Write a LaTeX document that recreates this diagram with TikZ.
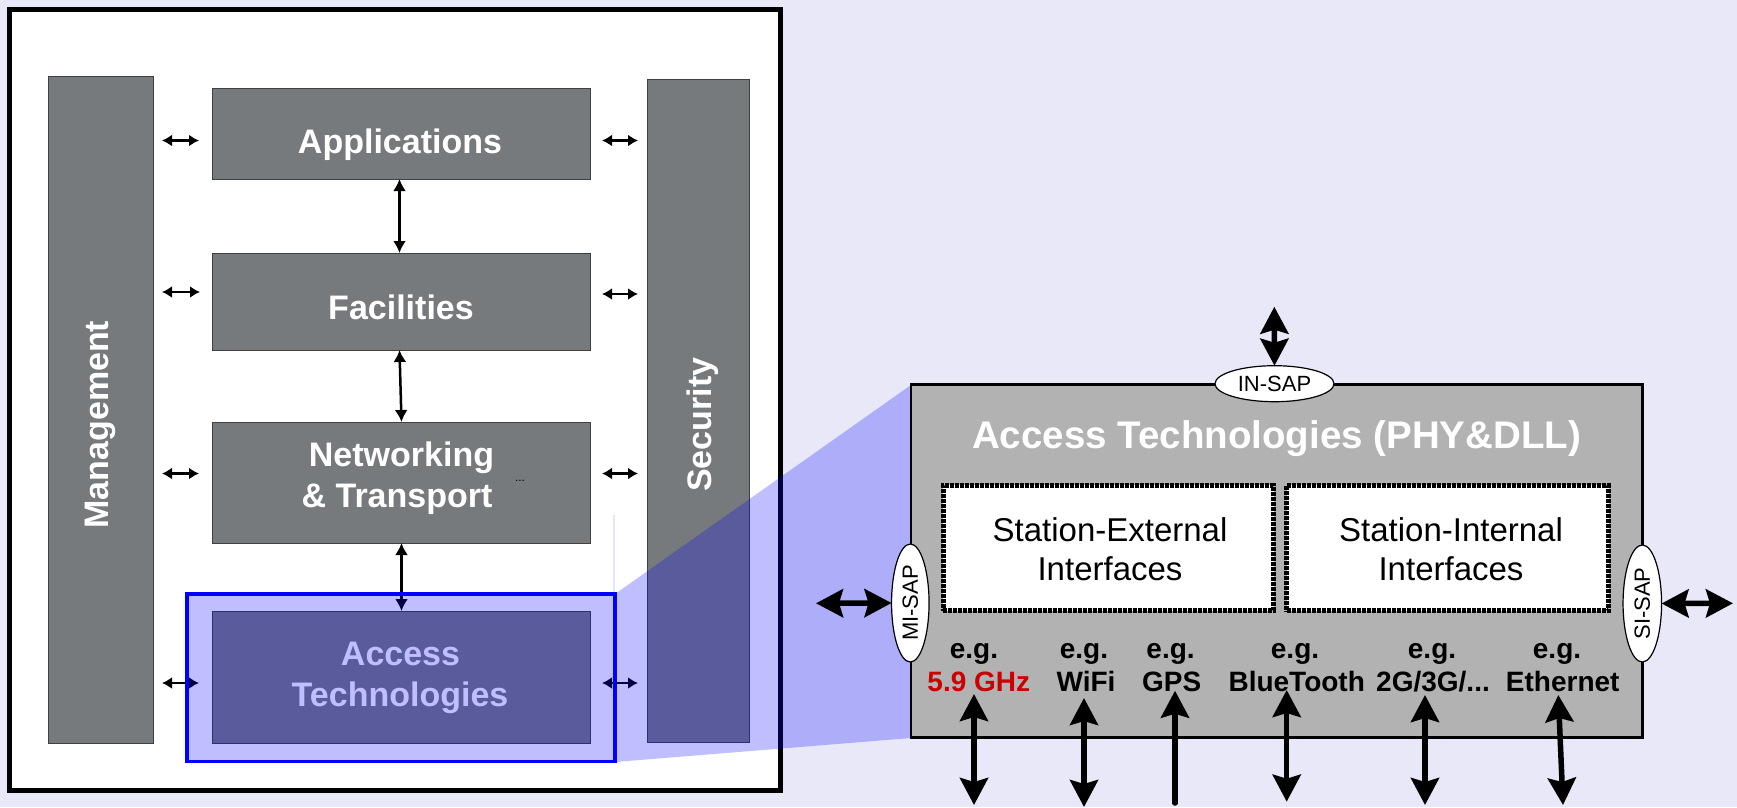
\documentclass[tikz,border=0pt]{standalone}
\usepackage{fontspec}
\setmainfont{Liberation Sans}
\usetikzlibrary{arrows.meta,shapes.geometric}
\definecolor{bg}{RGB}{232,232,248}
\definecolor{barfill}{RGB}{119,122,125}
\definecolor{atfill}{RGB}{178,178,178}
\definecolor{redtxt}{RGB}{204,0,0}
\begin{document}
\begin{tikzpicture}[x=1pt,y=-1pt,
  every node/.style={inner sep=0pt,outer sep=0pt},
  barbox/.style={draw=black!75,line width=1pt,fill=barfill},
  bartext/.style={text=white,font=\fontsize{34}{40}\selectfont\bfseries,anchor=base},
  smallarr/.style={line width=2.2pt,{Latex[length=10pt,width=12pt]}-{Latex[length=10pt,width=12pt]}},
  vertarr/.style={line width=2.5pt,{Latex[length=12pt,width=13pt]}-{Latex[length=12pt,width=13pt]}},
  bigarr/.style={line width=5.5pt,{Stealth[length=27pt,width=28pt,inset=4pt]}-{Stealth[length=27pt,width=28pt,inset=4pt]}},
  uparr/.style={line width=5.5pt,line cap=round,-{Stealth[length=27pt,width=28pt,inset=4pt]}},
  sap/.style={ellipse,draw=black,line width=1.2pt,fill=white,font=\fontsize{22}{22}\selectfont},
  ifbox/.style={draw=black,line width=5pt,dash pattern=on 4pt off 1pt,fill=white},
  egtext/.style={font=\fontsize{28}{28}\selectfont\bfseries,anchor=base},
  iftext/.style={font=\fontsize{33}{33}\selectfont,anchor=base},
]
% background
\fill[bg] (0,0) rectangle (1737,807);
\useasboundingbox (0,0) rectangle (1737,807);

% left frame
\node[draw=black,line width=5pt,fill=white,minimum width=771.4pt,minimum height=780.7pt] (frame) at (394.9,399.65) {};

% bars and boxes
\node[barbox,minimum width=104.5pt,minimum height=667pt] (mgmt) at (100.75,409.5) {};
\node[barbox,minimum width=101.6pt,minimum height=662.2pt] (sec) at (698.5,410.9) {};
\node[barbox,minimum width=378pt,minimum height=90.5pt] (app) at (401,133.75) {};
\node[barbox,minimum width=378pt,minimum height=97pt] (fac) at (401,301.5) {};
\node[barbox,minimum width=378pt,minimum height=121pt] (net) at (401,482.5) {};
\node[barbox,minimum width=378pt,minimum height=132pt] (acc) at (401,677) {};

% texts
\node[bartext,rotate=90] (tmgmt) at (108.7,424.6) {Management};
\node[bartext,rotate=90] (tsec) at (711.5,424.6) {Security};
\node[bartext] (tapp) at (400,153) {Applications};
\node[bartext] (tfac) at (401,319) {Facilities};
\node[bartext] (tnet1) at (401.5,466) {Networking};
\node[bartext] (tnet2) at (397,507) {\& Transport};
\node[anchor=base,font=\fontsize{12}{12}\selectfont] (tdots) at (520,481) {...};
\node[bartext] (tacc1) at (400.5,665.5) {Access};
\node[bartext] (tacc2) at (400,706) {Technologies};

% small horizontal arrows
\coordinate (l1a) at (162,140.5); \coordinate (l1b) at (199,140.5);
\coordinate (l2a) at (162,292);   \coordinate (l2b) at (200,292);
\coordinate (l3a) at (162,473.5); \coordinate (l3b) at (199,473.5);
\coordinate (l4a) at (162,683);   \coordinate (l4b) at (199,683);
\coordinate (r1a) at (602,140.5); \coordinate (r1b) at (638,140.5);
\coordinate (r2a) at (602,294);   \coordinate (r2b) at (638,294);
\coordinate (r3a) at (602,473.5); \coordinate (r3b) at (638,473.5);
\coordinate (r4a) at (602,683);   \coordinate (r4b) at (638,683);
\foreach \a in {l1,l2,l3,l4,r1,r2,r3,r4} {\draw[smallarr] (\a a) -- (\a b);}

% vertical arrows
\draw[vertarr] ([xshift=-1.5pt]app.south) -- ([xshift=-1.5pt]fac.north);
\draw[vertarr] ([xshift=-1.5pt]fac.south) -- ([xshift=0.5pt]net.north);
\draw[vertarr] ([xshift=0.5pt]net.south) -- ([xshift=0.5pt]acc.north);

% zoom stipple
\fill[blue,fill opacity=0.25] (187,594) -- (615,594) -- (911,385) -- (911,738) -- (615,762) -- (187,762) -- cycle;
\fill[blue,fill opacity=0.1] (612.5,515) rectangle (614.5,594);

% blue frame
\node[draw={rgb,255:red,0;green,0;blue,255},line width=3.3pt,minimum width=428pt,minimum height=167.5pt] (bluefr) at (401,677.75) {};

% right box
\node[draw=black,line width=2.5pt,fill=atfill,minimum width=731.5pt,minimum height=353.2pt] (atbox) at (1276.75,560.9) {};
\node[anchor=base,text=white,font=\fontsize{38.5}{40}\selectfont\bfseries] (title) at (1276.5,448.5) {Access Technologies (PHY\&DLL)};

\node[ifbox,minimum width=330.3pt,minimum height=125.6pt] (ext) at (1108.35,548) {};
\node[ifbox,minimum width=322pt,minimum height=125.6pt] (int) at (1447.5,548) {};
\node[iftext] (text1) at (1110,541.7) {Station-External};
\node[iftext] (text2) at (1110,580) {Interfaces};
\node[iftext] (tint1) at (1451,541.7) {Station-Internal};
\node[iftext] (tint2) at (1451,580) {Interfaces};

% SAPs
\node[sap,minimum width=119pt,minimum height=36pt] (insap) at (1274.5,383.7) {IN-SAP};
\node[sap,rotate=90,minimum width=118pt,minimum height=37.5pt] (misap) at (910.3,603) {MI-SAP};
\node[sap,rotate=90,minimum width=117pt,minimum height=38.5pt] (sisap) at (1642.3,603.5) {SI-SAP};

\coordinate (inTop) at (1274.3,306.7);
\draw[bigarr] (insap.north) -- (inTop);
\coordinate (miL) at (816,603.3);
\draw[bigarr] (miL) -- (misap.north);
\coordinate (siR) at (1733,603.3);
\draw[bigarr] (sisap.south) -- (siR);

% technology labels
\node[egtext] (eg1) at (974,658) {e.g.};
\node[egtext] (eg2) at (1084,658) {e.g.};
\node[egtext] (eg3) at (1170.6,658) {e.g.};
\node[egtext] (eg4) at (1295,658) {e.g.};
\node[egtext] (eg5) at (1432,658) {e.g.};
\node[egtext] (eg6) at (1557,658) {e.g.};
\node[egtext,text=redtxt] (n1) at (978.8,691.7) {5.9 GHz};
\node[egtext] (n2) at (1086,691.7) {WiFi};
\node[egtext] (n3) at (1171.7,691.7) {GPS};
\node[egtext] (n4) at (1296.7,691.7) {BlueTooth};
\node[egtext] (n5) at (1433,691.7) {2G/3G/...};
\node[egtext] (n6) at (1562.7,691.7) {Ethernet};

% bottom arrows
\coordinate (b1t) at (974,694);    \coordinate (b1b) at (974,805);
\coordinate (b2t) at (1084,698);   \coordinate (b2b) at (1084,807);
\coordinate (b3t) at (1175,690.7); \coordinate (b3b) at (1175,803);
\coordinate (b4t) at (1286.7,690); \coordinate (b4b) at (1286.7,801.7);
\coordinate (b5t) at (1425,695);   \coordinate (b5b) at (1425,805);
\coordinate (b6t) at (1558.3,695); \coordinate (b6b) at (1563,805);
\draw[bigarr] (b1t) -- (b1b);
\draw[bigarr] (b2t) -- (b2b);
\draw[uparr] (b3b) -- (b3t);
\draw[bigarr] (b4t) -- (b4b);
\draw[bigarr] (b5t) -- (b5b);
\draw[bigarr] (b6t) -- (b6b);
\end{tikzpicture}
\end{document}
